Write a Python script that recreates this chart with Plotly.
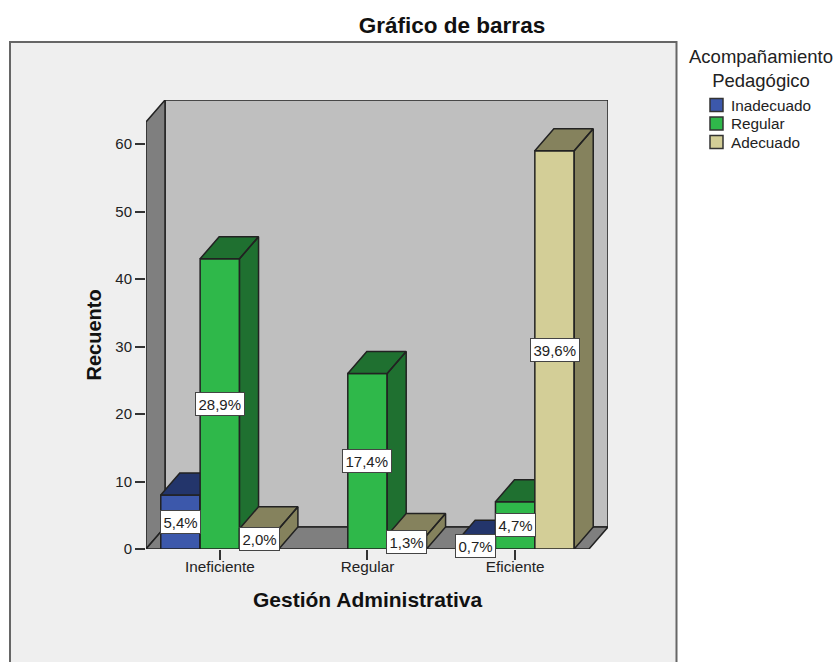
import plotly.graph_objects as go

categories = ["Ineficiente", "Regular", "Eficiente"]
series_names = ["Inadecuado", "Regular", "Adecuado"]
inadecuado = [8, 0, 1]
regular = [43, 26, 7]
adecuado = [3, 2, 59]
pct_inadecuado = ["5,4%", "", "0,7%"]
pct_regular = ["28,9%", "17,4%", "4,7%"]
pct_adecuado = ["2,0%", "1,3%", "39,6%"]
y_ticks = [0, 10, 20, 30, 40, 50, 60]

W, H = 835, 662
L, R, T, B = 146, 608, 100, 549
FONT = "Liberation Sans"
EDGE = "#222222"
DX = 19 / 147.5
DY = 22 / 6.75
XMIN, XFRONT = -0.5, 2.5
YTOP = (B - T) / 6.75 - DY
BW = 0.8 / 3

def fx(p): return (p - L) / (R - L)
def fy(p): return (B - p) / (B - T)

fills = [("#3c58ab", "#23356b"), ("#2fb84a", "#1f7030"), ("#d3ce97", "#85825d")]
values = [inadecuado, regular, adecuado]
labels = [pct_inadecuado, pct_regular, pct_adecuado]

fig = go.Figure()

def poly(xs, ys, color, name):
    fig.add_trace(go.Scatter(x=xs, y=ys, mode="lines", fill="toself", fillcolor=color,
                             line=dict(color=EDGE, width=1.5), cliponaxis=False,
                             hoverinfo="skip", showlegend=False, name=name))

poly([XMIN + DX, XFRONT + DX, XFRONT + DX, XMIN + DX, XMIN + DX], [DY, DY, YTOP + DY, YTOP + DY, DY], "#bfbfbf", "back wall")
poly([XMIN, XMIN + DX, XMIN + DX, XMIN, XMIN], [0, DY, YTOP + DY, YTOP, 0], "#7f7f7f", "side wall")
poly([XMIN, XFRONT, XFRONT + DX, XMIN + DX, XMIN], [0, 0, DY, DY, 0], "#7f7f7f", "floor")

annotations = []
for s, (name, vals, (front, dark)) in enumerate(zip(series_names, values, fills)):
    xa, ya = f"x{s + 2}", f"y{s + 2}"
    offset = -0.4 + s * BW
    fig.add_trace(go.Bar(x=list(range(3)), y=[v if v else None for v in vals], name=name, width=BW, offset=offset,
                         marker=dict(color=front, line=dict(color=EDGE, width=1.5)),
                         xaxis=xa, yaxis=ya, showlegend=False))
    xs, ys = [], []
    for g, v in enumerate(vals):
        if not v:
            continue
        x0, x1 = g + offset, g + offset + BW
        xs += [x1, x1 + DX, x1 + DX, x1, x1, None, x0, x0 + DX, x1 + DX, x1, x0, None]
        ys += [0, DY, v + DY, v, 0, None, v, v + DY, v + DY, v, v, None]
        annotations.append(dict(x=x0 + BW / 2, y=v / 2, xref="x", yref="y", text=labels[s][g], showarrow=False,
                                bgcolor="white", bordercolor="#444444", borderwidth=1, borderpad=2.5,
                                font=dict(family=FONT, size=15, color="#222222")))
    fig.add_trace(go.Scatter(x=xs, y=ys, mode="lines", fill="toself", fillcolor=dark,
                             line=dict(color=EDGE, width=1.5), cliponaxis=False, xaxis=xa, yaxis=ya,
                             hoverinfo="skip", showlegend=False, name=name + " depth"))

def note(text, x, y, size, bold=False, anchor="center", angle=0, color="#222222"):
    annotations.append(dict(text=f"<b>{text}</b>" if bold else text, x=fx(x), y=fy(y), xref="paper", yref="paper",
                            showarrow=False, xanchor=anchor, yanchor="middle", textangle=angle,
                            font=dict(family=FONT, size=size, color=color)))

note("Gestión Administrativa", 367.5, 599, 21, bold=True, color="#111111")
note("Recuento", 93.5, 335, 20, bold=True, angle=-90, color="#111111")
note("Acompañamiento<br>Pedagógico", 760.5, 69, 18.5)

shapes = [dict(type="rect", xref="paper", yref="paper", x0=fx(10), x1=fx(676.5), y0=fy(720), y1=fy(42),
               fillcolor="#efefef", line=dict(color="#666666", width=2), layer="below")]
for name, (front, _), yc in zip(series_names, fills, [105, 123.5, 142]):
    shapes.append(dict(type="rect", xref="paper", yref="paper", x0=fx(710), x1=fx(723), y0=fy(yc + 6.5), y1=fy(yc - 6.5),
                       fillcolor=front, line=dict(color="#333333", width=1.5)))
    note(name, 728.5, yc, 15.3, anchor="left")

axis_common = dict(showgrid=False, zeroline=False, showline=False)
layout = dict(
    width=W, height=H, autosize=False, paper_bgcolor="white", plot_bgcolor="rgba(0,0,0,0)",
    margin=dict(l=L, r=W - R, t=T, b=H - B, pad=0), barmode="overlay", showlegend=False,
    title=dict(text="<b>Gráfico de barras</b>", x=452 / W, xanchor="center", xref="container",
               y=1 - 25 / H, yanchor="middle", font=dict(family=FONT, size=22.5, color="#111111")),
    xaxis=dict(range=[XMIN, XFRONT + DX], tickvals=list(range(3)), ticktext=categories, ticks="outside", ticklen=10,
               ticklabelstandoff=-6, tickcolor="#333333", tickwidth=1.5,
               tickfont=dict(family=FONT, size=15.3, color="#222222"), **axis_common),
    yaxis=dict(range=[0, YTOP + DY], tickvals=y_ticks, ticks="outside", ticklen=10,
               tickcolor="#333333", tickwidth=1.5, tickfont=dict(family=FONT, size=15, color="#222222"), **axis_common),
    annotations=annotations, shapes=shapes,
)
for i in (2, 3, 4):
    layout[f"xaxis{i}"] = dict(range=[XMIN, XFRONT + DX], overlaying="x", anchor=f"y{i}", visible=False)
    layout[f"yaxis{i}"] = dict(range=[0, YTOP + DY], overlaying="y", anchor=f"x{i}", visible=False)
fig.update_layout(**layout)
fig.write_html("out.html", config=dict(displayModeBar=False), post_script="document.body.style.margin='0';")
